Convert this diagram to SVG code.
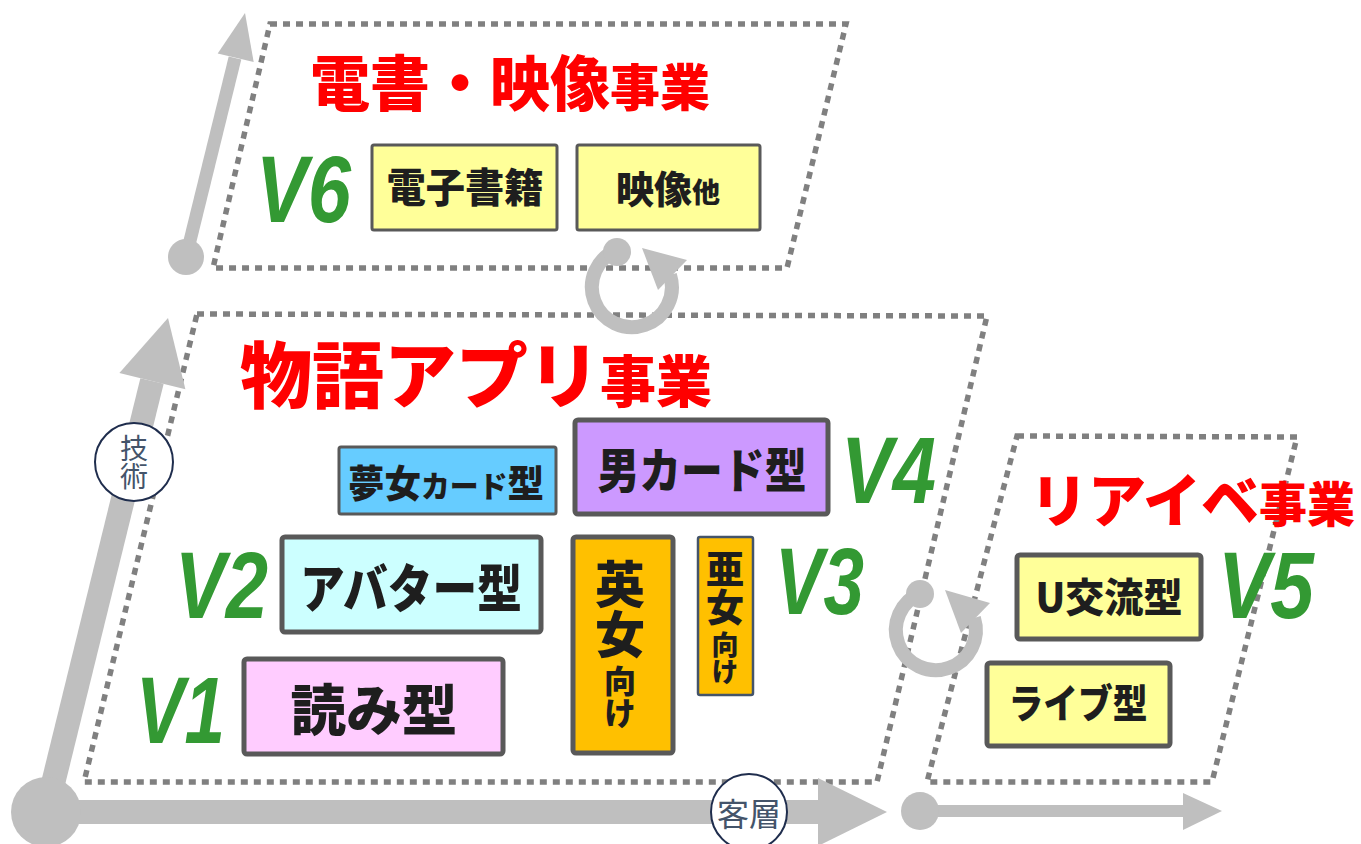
<svg xmlns="http://www.w3.org/2000/svg" width="1361" height="844" viewBox="0 0 1361 844">
<style>
.dot{fill:none;stroke:#808080;stroke-width:5.5;stroke-dasharray:7 6}
.axis{stroke:#bfbfbf;fill:none}
.axf{fill:#bfbfbf}
.jp{font-family:"Noto Sans CJK JP","Noto Sans",sans-serif;font-weight:900}
.ttl{fill:#ff0000}
.bt{fill:#1e1e1e;text-anchor:middle}
.vt{fill:#1e1e1e;writing-mode:vertical-rl}
.v{font-family:"Liberation Sans",Arial,sans-serif;font-weight:700;font-style:italic;fill:#339933;font-size:94px}
.box{stroke:#595959;stroke-width:5}
.thin{stroke:#595959;stroke-width:3}
.lab{fill:#fff;stroke:#1f2d4d;stroke-width:2}
.lt{font-family:"Noto Sans CJK JP","Noto Sans",sans-serif;fill:#44546a;text-anchor:middle}
</style>
<g id="frames">
<polygon class="dot" points="270,24 846,24 787,268 213,268"/>
<polygon class="dot" points="197,314 987,316 877,782 84,782"/>
<polygon class="dot" points="1017,436 1297,437 1212,782 927,782"/>
</g>
<g id="connectors">
<line class="axis" x1="46" y1="812" x2="152" y2="381" stroke-width="24"/>
<polygon class="axf" points="168,318 185.4,389.3 119.4,372.9"/>
<line class="axis" x1="46" y1="812" x2="820" y2="812" stroke-width="24"/>
<polygon class="axf" points="818,778 887,812 818,846"/>
<circle class="axf" cx="46" cy="812" r="35"/>
<line class="axis" x1="186" y1="257" x2="235" y2="58" stroke-width="13"/>
<polygon class="axf" points="245,13 253.7,62 217.7,53.4"/>
<circle class="axf" cx="186" cy="257" r="18"/>
<line class="axis" x1="920" y1="811" x2="1186" y2="811" stroke-width="12"/>
<polygon class="axf" points="1183,793 1222,811 1183,830"/>
<circle class="axf" cx="920" cy="811" r="19"/>
<path class="axis" stroke-width="14" d="M617,250 A40,40 0 1 0 670,275"/>
<circle class="axf" cx="617" cy="252" r="14"/>
<polygon class="axf" points="642,248 687,260 658,290"/>
<path class="axis" stroke-width="14" d="M921,593 A40,40 0 1 0 974,618"/>
<circle class="axf" cx="920" cy="594" r="14"/>
<polygon class="axf" points="945,590 990,603 961,633"/>
</g>
<g id="label-gijutsu">
<circle class="lab" cx="134" cy="462" r="39"/>
<text class="lt" x="134" y="462" font-size="28" style="writing-mode:vertical-rl">技術</text>
</g>
<g id="label-kyakuso">
<circle class="lab" cx="749" cy="812" r="38"/>
<text class="lt" x="749" y="826" font-size="32">客層</text>
</g>
<g id="title-densho">
<text class="jp ttl" x="310" y="106" font-size="60">電書・映像<tspan font-size="50">事業</tspan></text>
</g>
<g id="title-monogatari">
<text class="jp ttl" x="240" y="402" font-size="72">物語アプリ<tspan font-size="56">事業</tspan></text>
</g>
<g id="title-riaibe">
<text class="jp ttl" x="1030" y="522" font-size="58">リアイベ<tspan font-size="48">事業</tspan></text>
</g>
<g id="V6"><text class="v" x="256" y="222" textLength="95" lengthAdjust="spacingAndGlyphs">V6</text></g>
<g id="V4"><text class="v" x="841" y="503" textLength="95" lengthAdjust="spacingAndGlyphs">V4</text></g>
<g id="V2"><text class="v" x="175" y="618" textLength="93" lengthAdjust="spacingAndGlyphs">V2</text></g>
<g id="V3"><text class="v" x="775" y="614" textLength="89" lengthAdjust="spacingAndGlyphs">V3</text></g>
<g id="V1"><text class="v" x="136" y="743" textLength="89" lengthAdjust="spacingAndGlyphs">V1</text></g>
<g id="V5"><text class="v" x="1218" y="618" textLength="96" lengthAdjust="spacingAndGlyphs">V5</text></g>
<g id="node-denshi">
<rect class="thin" x="372" y="145" width="185" height="85" fill="#ffff99" rx="2"/>
<text class="jp bt" x="465" y="202" font-size="40" textLength="157" lengthAdjust="spacingAndGlyphs">電子書籍</text>
</g>
<g id="node-eizo">
<rect class="thin" x="577" y="145" width="183" height="85" fill="#ffff99" rx="2"/>
<text class="jp bt" x="668" y="203" font-size="38"><tspan>映像</tspan><tspan font-size="28">他</tspan></text>
</g>
<g id="node-yumejo">
<rect class="thin" x="339" y="447" width="217" height="67" fill="#66ccff" rx="2"/>
<text class="jp bt" x="446" y="497" font-size="38" textLength="196" lengthAdjust="spacingAndGlyphs"><tspan>夢女</tspan><tspan font-size="30">カード</tspan><tspan>型</tspan></text>
</g>
<g id="node-otoko">
<rect class="box" x="575" y="420" width="253" height="94" fill="#cc99ff" rx="3"/>
<text class="jp bt" x="702" y="488" font-size="48" textLength="209" lengthAdjust="spacingAndGlyphs">男カード型</text>
</g>
<g id="node-avatar">
<rect class="box" x="282" y="537" width="259" height="95" fill="#ccffff" rx="3"/>
<text class="jp bt" x="411" y="608" font-size="52" textLength="222" lengthAdjust="spacingAndGlyphs">アバター型</text>
</g>
<g id="node-yomi">
<rect class="box" x="244" y="659" width="259" height="95" fill="#ffccff" rx="3"/>
<text class="jp bt" x="374" y="730" font-size="55" textLength="167" lengthAdjust="spacingAndGlyphs">読み型</text>
</g>
<g id="node-eijo">
<rect class="box" x="573" y="537" width="100" height="216" fill="#ffc000" rx="3"/>
<text class="jp vt" x="620" y="559" font-size="50">英女<tspan dy="6" font-size="32">向け</tspan></text>
</g>
<g id="node-ajo">
<rect x="698" y="537" width="55" height="158" fill="#ffc000" stroke="#44546a" stroke-width="2.5" rx="2"/>
<text class="jp vt" x="725" y="550" font-size="38">亜女<tspan dy="5" font-size="27">向け</tspan></text>
</g>
<g id="node-ukoryu">
<rect class="box" x="1017" y="555" width="184" height="84" fill="#ffff99" rx="3"/>
<text class="jp bt" x="1109" y="612" font-size="40" textLength="147" lengthAdjust="spacingAndGlyphs">U交流型</text>
</g>
<g id="node-live">
<rect class="box" x="987" y="663" width="183" height="83" fill="#ffff99" rx="3"/>
<text class="jp bt" x="1078" y="718" font-size="40" textLength="139" lengthAdjust="spacingAndGlyphs">ライブ型</text>
</g>
</svg>
